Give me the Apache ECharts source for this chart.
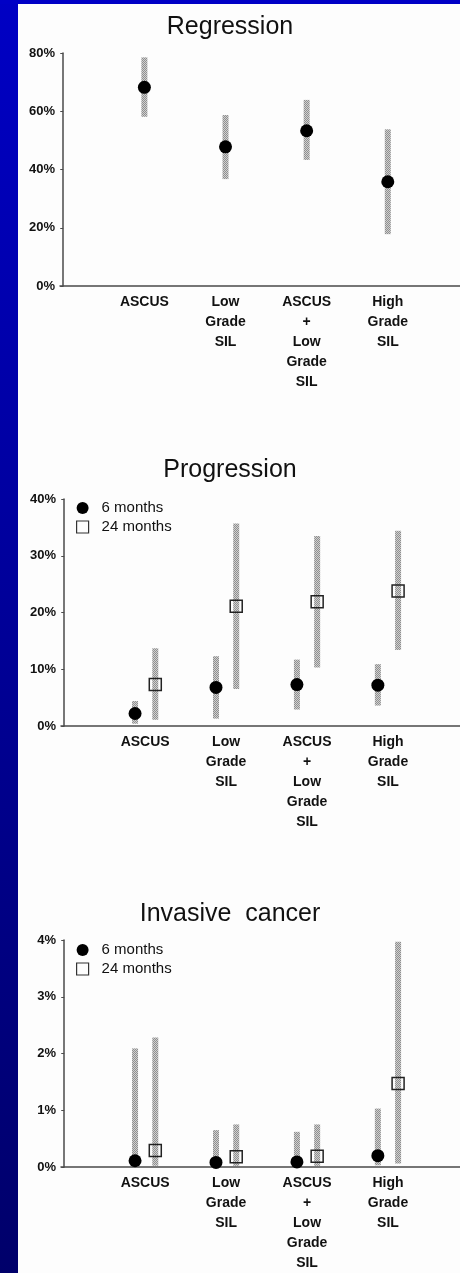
<!DOCTYPE html>
<html>
<head>
<meta charset="utf-8">
<script src="https://cdn.jsdelivr.net/npm/echarts@6/dist/echarts.min.js"></script>
<style>
  html, body { margin: 0; padding: 0; background: #fdfdfd; }
  #leftbar { position: absolute; left: 0; top: 0; width: 18px; height: 1273px;
    background: linear-gradient(to bottom, #0000c4, #00006a); }
  #topbar { position: absolute; left: 0; top: 0; width: 460px; height: 4px; background: #0000c6; }
  #chart { position: absolute; left: 0; top: 0; width: 460px; height: 1273px; }
</style>
</head>
<body>
<div id="leftbar"></div>
<div id="topbar"></div>
<div id="chart"></div>
<script>
// ---------- data ----------
const categories = ['ASCUS', 'Low\nGrade\nSIL', 'ASCUS\n+\nLow\nGrade\nSIL', 'High\nGrade\nSIL'];
const panelTitles = ['Regression', 'Progression', 'Invasive  cancer'];
const legendNames = ['6 months', '24 months'];

// Regression (%)
const regEst  = [68.2, 47.8, 53.3, 35.8];
const regLow  = [58.1, 36.7, 43.3, 17.8];
const regHigh = [78.5, 58.7, 63.9, 53.8];

// Progression (%)
const prog6Est   = [2.2, 6.8, 7.3, 7.2];
const prog6Low   = [0.4, 1.3, 2.9, 3.6];
const prog6High  = [4.4, 12.3, 11.7, 10.9];
const prog24Est  = [7.3, 21.1, 21.9, 23.8];
const prog24Low  = [1.1, 6.5, 10.3, 13.4];
const prog24High = [13.7, 35.7, 33.5, 34.4];

// Invasive cancer (%)
const inv6Est   = [0.11, 0.08, 0.09, 0.2];
const inv6Low   = [0.0, 0.0, 0.0, 0.03];
const inv6High  = [2.09, 0.65, 0.62, 1.03];
const inv24Est  = [0.29, 0.18, 0.19, 1.47];
const inv24Low  = [0.02, 0.02, 0.02, 0.06];
const inv24High = [2.28, 0.75, 0.75, 3.97];

// y axis tick settings per panel
const yMax = [80, 40, 4];
const yInterval = [20, 10, 1];

// ---------- styles ----------
const FONT = '"Liberation Sans", Arial, Helvetica, sans-serif';
const AXIS_COLOR = '#4a4a4a';
const TEXT_COLOR = '#111';

// stippled gray pattern for confidence bars
const pat = document.createElement('canvas');
pat.width = 2; pat.height = 2;
(function () {
  const c = pat.getContext('2d');
  c.fillStyle = '#d0d0d0'; c.fillRect(0, 0, 2, 2);
  c.fillStyle = '#8e8e8e'; c.fillRect(0, 0, 1, 1); c.fillRect(1, 1, 1, 1);
})();
const barFill = { image: pat, repeat: 'repeat' };

const grids = [
  { left: 60, right: 0, top: 53, height: 233 },
  { left: 61, right: 0, top: 499, height: 227 },
  { left: 61, right: 0, top: 940, height: 230.5 }
];
const titleTops = [15, 458, 902];
const legendTops = [500, 942];

const OFF = 0.125; // side offset of 6 / 24 month marks (category units)

function pts(est, off) { return est.map((v, i) => [i + 1 + off, v]); }
function bars(lo, hi, off) { return lo.map((v, i) => [i + 1 + off, v, hi[i]]); }

function errSeries(gi, lo, hi, off) {
  return {
    type: 'custom', xAxisIndex: gi, yAxisIndex: gi, z: 1, silent: true,
    name: 'ci' + gi + off,
    encode: { x: 0, y: [1, 2] },
    data: bars(lo, hi, off),
    renderItem: function (params, api) {
      const x = api.value(0);
      const pTop = api.coord([x, api.value(2)]);
      const pBot = api.coord([x, api.value(1)]);
      return {
        type: 'rect',
        shape: { x: pTop[0] - 3, y: pTop[1], width: 6, height: pBot[1] - pTop[1] },
        style: { fill: barFill }
      };
    }
  };
}
function dotSeries(gi, est, off, name) {
  return {
    type: 'scatter', name: name, xAxisIndex: gi, yAxisIndex: gi, z: 3,
    symbol: 'circle', symbolSize: 13,
    itemStyle: { color: '#000', opacity: 1 },
    data: pts(est, off)
  };
}
function sqSeries(gi, est, off, name) {
  return {
    type: 'scatter', name: name, xAxisIndex: gi, yAxisIndex: gi, z: 3,
    symbol: 'rect', symbolSize: 12,
    itemStyle: { color: 'rgba(0,0,0,0)', borderColor: '#222', borderWidth: 1.5, opacity: 1 },
    data: pts(est, off)
  };
}

const option = {
  animation: false,
  textStyle: { fontFamily: FONT },
  title: panelTitles.map((t, i) => ({
    text: t, left: 'center', top: titleTops[i],
    padding: [0, 19, 0, 0],
    textStyle: { fontSize: 25, fontWeight: 'normal', color: TEXT_COLOR, fontFamily: FONT }
  })),
  legend: legendTops.map(top => ({
    data: [
      { name: legendNames[0], icon: 'circle', itemStyle: { color: '#000', opacity: 1 } },
      { name: legendNames[1], icon: 'rect', itemStyle: { color: 'rgba(0,0,0,0)', borderColor: '#333', borderWidth: 1.2, opacity: 1 } }
    ],
    orient: 'vertical', left: 76, top: top, padding: 0,
    itemWidth: 12, itemHeight: 12, itemGap: 3,
    selectedMode: false,
    textStyle: { fontSize: 15, lineHeight: 16, color: TEXT_COLOR, fontFamily: FONT, padding: [0, 0, 0, 8] }
  })),
  grid: grids,
  xAxis: grids.map((g, i) => ({
    gridIndex: i, type: 'value', min: -0.04, max: 4.89,
    axisLine: { show: true, onZero: false, lineStyle: { color: AXIS_COLOR, width: 1.5 } },
    axisTick: { show: false },
    splitLine: { show: false },
    axisLabel: {
      customValues: [1, 2, 3, 4],
      formatter: v => categories[Math.round(v) - 1] || '',
      fontSize: 14, fontWeight: 'bold', lineHeight: 20, margin: 6, color: TEXT_COLOR, fontFamily: FONT
    }
  })),
  yAxis: grids.map((g, i) => ({
    gridIndex: i, type: 'value', min: 0, max: yMax[i], interval: yInterval[i],
    axisLine: { show: true, lineStyle: { color: AXIS_COLOR, width: 1.5 } },
    axisTick: { show: true, length: 3, lineStyle: { color: AXIS_COLOR, width: 1 } },
    splitLine: { show: false },
    axisLabel: { formatter: '{value}%', fontSize: 13, fontWeight: 'bold', margin: 5, color: TEXT_COLOR, fontFamily: FONT }
  })),
  series: [
    errSeries(0, regLow, regHigh, 0),
    dotSeries(0, regEst, 0, 'Regression'),

    errSeries(1, prog6Low, prog6High, -OFF),
    errSeries(1, prog24Low, prog24High, OFF),
    dotSeries(1, prog6Est, -OFF, legendNames[0]),
    sqSeries(1, prog24Est, OFF, legendNames[1]),

    errSeries(2, inv6Low, inv6High, -OFF),
    errSeries(2, inv24Low, inv24High, OFF),
    dotSeries(2, inv6Est, -OFF, legendNames[0]),
    sqSeries(2, inv24Est, OFF, legendNames[1])
  ]
};

const chart = echarts.init(document.getElementById('chart'), null, { renderer: 'canvas' });
chart.setOption(option);
</script>
</body>
</html>
